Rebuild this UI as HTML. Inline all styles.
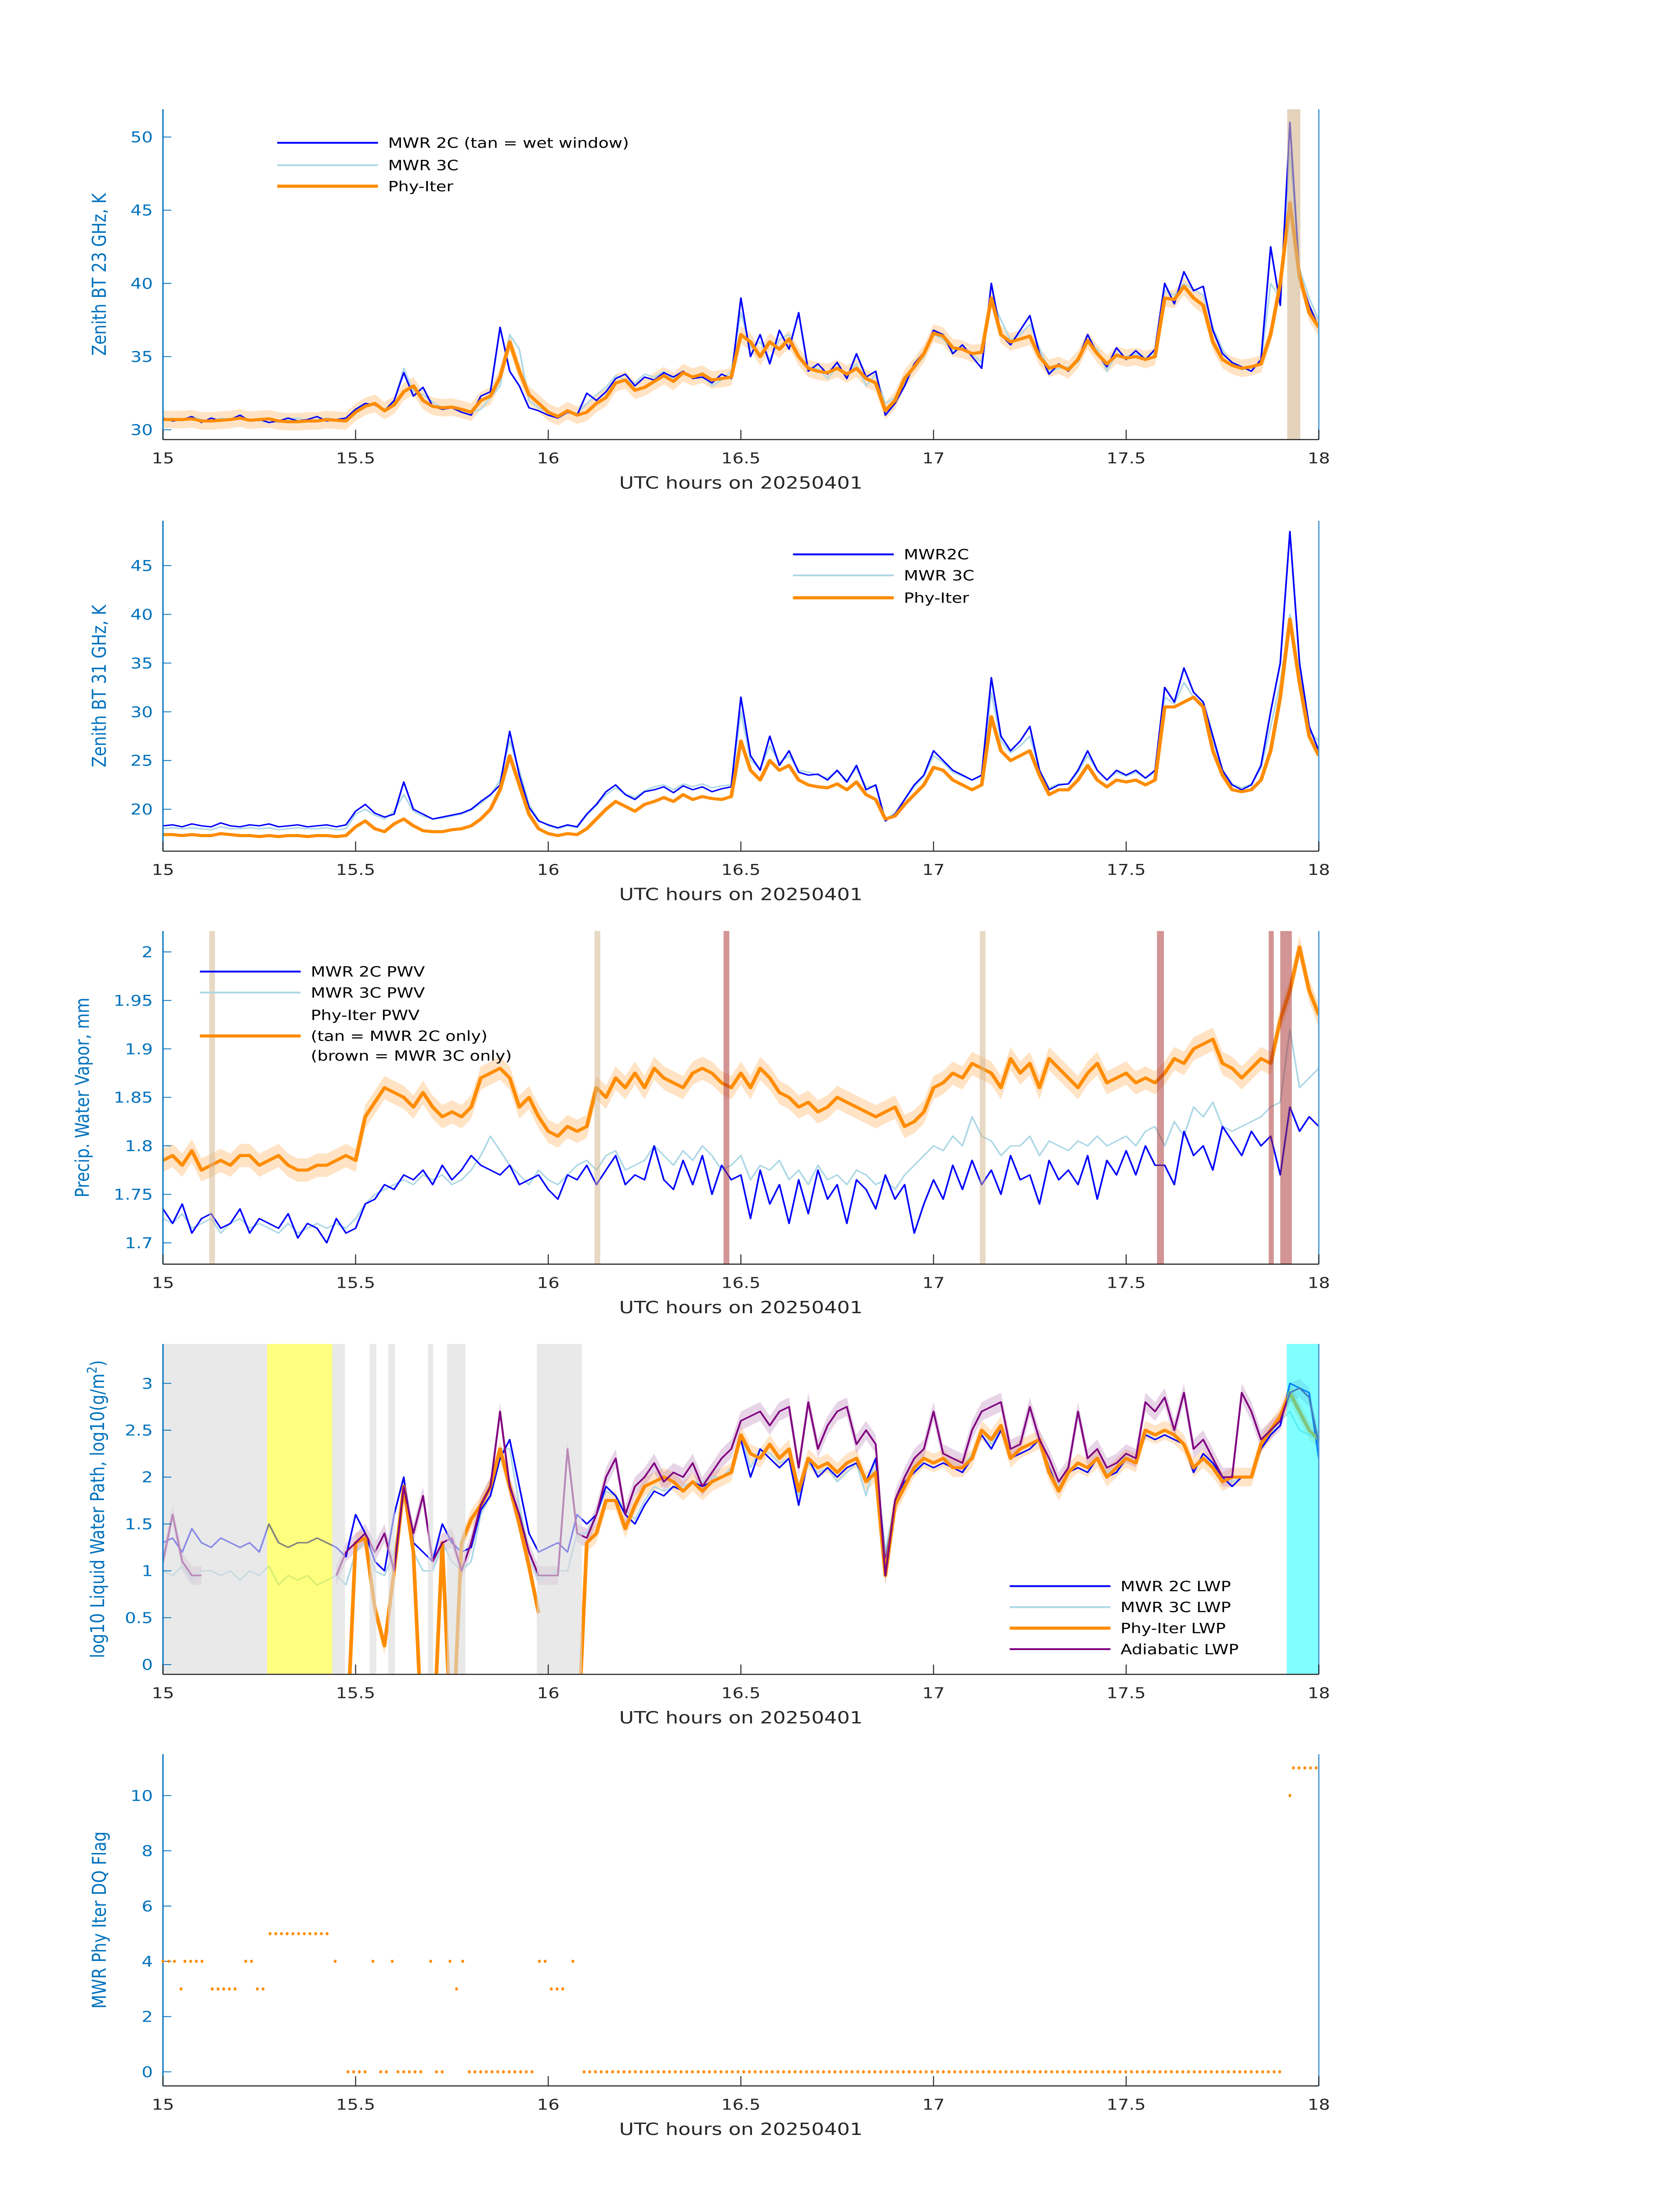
<!DOCTYPE html>
<html><head><meta charset="utf-8"><title>MWR retrieval comparison 20250401</title>
<style>html,body{margin:0;padding:0;background:#fff;width:100%;height:100%;overflow:hidden}svg{display:block;width:100vw;height:100vh}text{font-family:"DejaVu Sans","Liberation Sans",sans-serif}</style>
</head><body>
<svg id="fig" xmlns="http://www.w3.org/2000/svg" viewBox="0 0 1000 1568.627" preserveAspectRatio="none"></svg>
<script>
// ---------- shared axis data ----------
const tStart = 15, tStep = 0.025;
const xTicks = [15, 15.5, 16, 16.5, 17, 17.5, 18];
const xTickLabels = ['15', '15.5', '16', '16.5', '17', '17.5', '18'];

// ---------- Panel 1: BT 23 GHz ----------
const bt23_2c = [30.8,30.6,30.7,30.9,30.5,30.8,30.6,30.7,31.0,30.6,30.7,30.5,30.6,30.8,30.6,30.7,30.9,30.6,30.7,30.8,
31.4,31.8,31.7,31.3,32.0,33.9,32.3,32.9,31.6,31.4,31.5,31.2,31.0,32.3,32.6,37.0,34.0,33.0,31.5,31.3,
31.0,30.8,31.2,31.0,32.5,32.0,32.6,33.5,33.8,33.0,33.6,33.4,33.9,33.6,34.0,33.5,33.6,33.2,33.8,33.5,
39.0,35.0,36.5,34.5,36.8,35.5,38.0,34.0,34.5,33.8,34.6,33.5,35.2,33.6,34.0,31.0,31.8,33.0,34.5,35.3,
36.8,36.5,35.2,35.8,35.0,34.2,40.0,36.5,35.8,36.8,37.8,35.2,33.8,34.5,34.0,34.8,36.5,35.2,34.3,35.6,
34.8,35.4,34.8,35.5,40.0,38.6,40.8,39.5,39.8,36.8,35.2,34.6,34.3,34.0,34.8,42.5,38.5,51.0,40.5,38.5,37.0];
const bt23_3c = [30.7,30.8,30.6,30.9,30.7,30.6,30.8,30.7,30.8,30.7,30.6,30.7,30.5,30.7,30.8,30.6,30.7,30.8,30.7,30.6,
31.3,31.6,31.8,31.4,31.9,34.2,32.6,32.4,31.9,31.5,31.6,31.4,31.2,31.4,32.2,33.0,36.5,35.5,32.0,31.5,
31.2,30.9,31.3,31.1,31.8,32.4,32.9,33.7,33.4,33.2,33.8,33.6,34.0,33.4,33.8,33.6,33.9,33.0,33.4,34.0,
38.0,35.6,36.0,34.8,36.2,36.5,35.0,34.3,34.2,33.5,34.3,33.8,34.5,33.0,33.8,31.8,32.2,33.3,34.2,35.0,
36.5,36.2,35.4,35.6,35.2,34.6,39.0,37.5,36.1,36.5,37.2,35.6,34.0,34.2,34.3,34.6,36.0,35.5,34.0,35.2,
35.0,35.2,34.9,35.3,39.5,39.2,40.0,39.6,39.2,37.0,35.5,34.4,34.1,34.2,34.6,40.0,39.0,49.0,41.0,39.0,37.5];
const bt23_phy = [30.7,30.7,30.7,30.75,30.6,30.6,30.65,30.7,30.8,30.65,30.7,30.75,30.6,30.55,30.55,30.6,30.6,30.7,30.65,30.6,
31.2,31.6,31.8,31.3,31.7,32.6,33.0,32.0,31.6,31.5,31.55,31.4,31.2,32.0,32.3,33.6,36.0,34.0,32.4,31.8,
31.2,30.9,31.3,31.0,31.2,31.8,32.2,33.2,33.4,32.7,32.9,33.3,33.7,33.3,33.9,33.6,33.8,33.4,33.5,33.6,
36.5,36.0,35.0,36.0,35.5,36.2,35.0,34.2,34.0,33.9,34.2,33.8,34.2,33.5,33.2,31.3,32.0,33.5,34.3,35.2,
36.6,36.4,35.6,35.5,35.2,35.3,39.0,36.5,36.0,36.2,36.4,35.0,34.2,34.4,34.1,34.8,36.1,35.2,34.5,35.1,
34.9,35.0,34.8,35.0,39.0,38.9,39.8,39.0,38.5,36.0,34.8,34.4,34.2,34.3,34.5,36.5,40.0,45.5,40.5,38.0,37.0];
const bt23_ticks = [30, 35, 40, 45, 50];
const bt23_bands = [[17.918, 17.952]];

// ---------- Panel 2: BT 31 GHz ----------
const bt31_2c = [18.3,18.4,18.2,18.5,18.3,18.2,18.6,18.3,18.2,18.4,18.3,18.5,18.2,18.3,18.4,18.2,18.3,18.4,18.2,18.4,
19.8,20.5,19.6,19.2,19.5,22.8,20.0,19.5,19.0,19.2,19.4,19.6,20.0,20.8,21.5,22.5,28.0,23.5,20.2,18.8,
18.4,18.1,18.4,18.2,19.5,20.5,21.8,22.5,21.5,21.0,21.8,22.0,22.3,21.7,22.4,22.0,22.3,21.8,22.1,22.3,
31.5,25.5,24.0,27.5,24.5,26.0,23.8,23.5,23.6,23.0,24.0,22.8,24.5,22.0,22.5,18.8,19.5,21.0,22.5,23.5,
26.0,25.0,24.0,23.5,23.0,23.5,33.5,27.5,26.0,27.0,28.5,24.0,22.0,22.5,22.6,24.0,26.0,24.0,23.0,24.0,
23.5,24.0,23.2,24.0,32.5,31.0,34.5,32.0,31.0,27.5,24.0,22.5,22.0,22.5,24.5,30.0,35.0,48.5,35.0,28.5,26.0];
const bt31_3c = [18.0,18.1,18.0,18.1,18.0,17.9,18.2,18.0,18.0,18.1,18.0,18.1,17.9,18.0,18.1,18.0,18.0,18.1,17.9,18.0,
19.5,20.0,19.4,19.0,19.8,21.5,19.8,19.3,19.0,19.1,19.3,19.5,19.9,20.6,21.4,23.0,27.0,24.0,20.5,18.9,
18.3,18.0,18.3,18.1,19.4,20.4,21.5,22.2,21.6,21.2,21.9,22.3,22.5,22.0,22.6,22.3,22.6,22.2,22.4,22.5,
30.0,25.0,24.2,26.5,24.8,25.5,24.0,23.8,23.5,23.2,23.9,23.0,24.2,22.3,22.4,19.0,19.6,21.0,22.3,23.4,
25.5,24.8,23.8,23.4,23.0,23.4,32.0,27.0,25.8,26.5,27.5,24.0,22.2,22.6,22.6,23.8,25.5,24.0,23.0,23.8,
23.4,23.8,23.2,23.8,31.5,30.8,33.0,31.5,30.8,27.0,24.0,22.6,22.2,22.6,24.2,28.5,33.0,40.0,33.5,28.0,27.0];
const bt31_phy = [17.4,17.4,17.3,17.4,17.3,17.3,17.5,17.4,17.3,17.3,17.2,17.3,17.2,17.3,17.3,17.2,17.3,17.3,17.2,17.3,
18.2,18.8,18.0,17.7,18.5,19.0,18.3,17.8,17.7,17.7,17.9,18.0,18.3,19.0,20.0,22.0,25.5,22.5,19.5,18.0,
17.5,17.3,17.5,17.4,18.0,19.0,20.0,20.8,20.3,19.8,20.5,20.8,21.2,20.8,21.5,21.0,21.3,21.1,21.0,21.3,
27.0,24.0,23.0,25.0,24.0,24.5,23.0,22.5,22.3,22.2,22.6,22.0,22.8,21.5,21.0,19.0,19.3,20.5,21.5,22.5,
24.3,24.0,23.0,22.5,22.0,22.5,29.5,26.0,25.0,25.5,26.0,23.5,21.5,22.0,22.0,23.0,24.5,23.0,22.3,23.0,
22.8,23.0,22.5,23.0,30.5,30.5,31.0,31.5,30.5,26.0,23.5,22.0,21.8,22.0,23.0,26.0,31.5,39.5,33.0,27.5,25.5];
const bt31_ticks = [20, 25, 30, 35, 40, 45];

// ---------- Panel 3: PWV ----------
const pwv_2c = [1.735,1.72,1.74,1.71,1.725,1.73,1.715,1.72,1.735,1.71,1.725,1.72,1.715,1.73,1.705,1.72,1.715,1.70,1.725,1.71,
1.715,1.74,1.745,1.76,1.755,1.77,1.765,1.775,1.76,1.78,1.765,1.775,1.79,1.78,1.775,1.77,1.78,1.76,1.765,1.77,
1.755,1.745,1.77,1.765,1.78,1.76,1.775,1.79,1.76,1.77,1.765,1.80,1.765,1.755,1.785,1.76,1.79,1.75,1.78,1.765,
1.77,1.725,1.775,1.74,1.76,1.72,1.765,1.73,1.775,1.745,1.76,1.72,1.765,1.755,1.735,1.77,1.745,1.76,1.71,1.74,
1.765,1.745,1.78,1.755,1.785,1.76,1.775,1.75,1.79,1.765,1.77,1.74,1.785,1.765,1.775,1.76,1.79,1.745,1.785,1.77,
1.795,1.77,1.80,1.78,1.78,1.76,1.815,1.79,1.80,1.775,1.82,1.805,1.79,1.815,1.80,1.81,1.77,1.84,1.815,1.83,1.82];
const pwv_3c = [1.725,1.72,1.73,1.715,1.72,1.725,1.71,1.72,1.725,1.715,1.72,1.715,1.71,1.72,1.71,1.715,1.72,1.715,1.72,1.715,
1.725,1.74,1.75,1.755,1.76,1.765,1.76,1.77,1.765,1.77,1.76,1.765,1.775,1.79,1.81,1.795,1.78,1.77,1.76,1.775,
1.765,1.76,1.77,1.78,1.785,1.775,1.79,1.795,1.775,1.78,1.785,1.80,1.79,1.78,1.795,1.785,1.80,1.79,1.775,1.78,
1.79,1.765,1.78,1.775,1.785,1.765,1.775,1.76,1.78,1.765,1.77,1.76,1.775,1.77,1.76,1.765,1.755,1.77,1.78,1.79,
1.80,1.795,1.81,1.80,1.83,1.81,1.805,1.79,1.80,1.80,1.81,1.79,1.805,1.80,1.795,1.805,1.80,1.81,1.80,1.805,
1.81,1.80,1.815,1.82,1.80,1.825,1.81,1.84,1.83,1.845,1.82,1.815,1.82,1.825,1.83,1.84,1.845,1.92,1.86,1.87,1.88];
const pwv_phy = [1.785,1.79,1.78,1.795,1.775,1.78,1.785,1.78,1.79,1.79,1.78,1.785,1.79,1.78,1.775,1.775,1.78,1.78,1.785,1.79,
1.785,1.83,1.845,1.86,1.855,1.85,1.84,1.855,1.84,1.83,1.835,1.83,1.84,1.87,1.875,1.88,1.87,1.84,1.85,1.83,
1.815,1.81,1.82,1.815,1.82,1.86,1.85,1.87,1.86,1.875,1.86,1.88,1.87,1.865,1.86,1.875,1.88,1.875,1.865,1.86,
1.875,1.86,1.88,1.87,1.855,1.85,1.84,1.845,1.835,1.84,1.85,1.845,1.84,1.835,1.83,1.835,1.84,1.82,1.825,1.835,
1.86,1.865,1.875,1.87,1.885,1.88,1.875,1.86,1.89,1.875,1.885,1.86,1.89,1.88,1.87,1.86,1.875,1.885,1.865,1.87,
1.875,1.865,1.87,1.865,1.875,1.89,1.885,1.9,1.905,1.91,1.885,1.88,1.87,1.88,1.89,1.885,1.93,1.96,2.005,1.96,1.935];
const pwv_ticks = [1.7, 1.75, 1.8, 1.85, 1.9, 1.95, 2];
const pwv_tickLabels = ['1.7', '1.75', '1.8', '1.85', '1.9', '1.95', '2'];
const pwv_tanBands = [[15.12, 15.135], [16.12, 16.135], [17.12, 17.135]];
const pwv_brownBands = [[16.455, 16.47], [17.58, 17.598], [17.87, 17.883], [17.9, 17.93]];

// ---------- Panel 4: LWP ----------
const lwp_2c = [1.3,1.35,1.2,1.45,1.3,1.25,1.35,1.3,1.25,1.3,1.2,1.5,1.3,1.25,1.3,1.3,1.35,1.3,1.25,1.15,
1.6,1.4,1.1,1.0,1.6,2.0,1.3,1.2,1.1,1.5,1.3,1.2,1.25,1.65,1.8,2.2,2.4,1.9,1.4,1.2,
1.25,1.3,1.2,1.6,1.5,1.6,1.9,1.8,1.6,1.5,1.7,1.85,1.8,1.9,1.85,1.95,1.9,1.95,2.0,2.05,
2.4,2.0,2.3,2.2,2.1,2.2,1.7,2.2,2.0,2.1,2.0,2.1,2.15,1.95,2.2,1.1,1.7,1.95,2.05,2.15,
2.1,2.15,2.1,2.05,2.2,2.45,2.3,2.5,2.2,2.25,2.3,2.4,2.1,1.85,2.05,2.1,2.05,2.2,2.0,2.05,
2.2,2.15,2.45,2.4,2.45,2.4,2.35,2.05,2.25,2.15,2.0,1.9,2.0,2.0,2.3,2.45,2.55,3.0,2.95,2.9,2.2];
const lwp_3c = [1.0,0.95,1.05,0.9,1.0,1.0,0.95,1.0,0.9,1.0,0.95,1.05,0.85,0.95,0.9,0.95,0.85,0.9,0.95,0.85,
1.2,1.3,1.0,0.95,1.2,1.8,1.2,1.0,1.0,1.3,1.1,1.0,1.1,1.6,1.8,2.3,2.3,1.7,1.2,0.9,
0.95,1.0,1.0,1.4,1.4,1.6,1.85,1.8,1.65,1.55,1.75,1.9,1.85,1.9,1.9,1.95,1.95,2.0,2.0,2.1,
2.45,2.1,2.3,2.25,2.15,2.2,1.8,2.15,2.05,2.1,1.95,2.05,2.15,1.8,2.2,1.2,1.75,1.95,2.05,2.2,
2.15,2.2,2.1,2.1,2.25,2.5,2.35,2.5,2.2,2.3,2.35,2.4,2.05,1.9,2.05,2.15,2.1,2.2,2.05,2.1,
2.25,2.2,2.45,2.45,2.5,2.45,2.35,2.1,2.2,2.15,2.0,1.95,2.0,2.0,2.3,2.45,2.6,2.7,2.5,2.45,2.4];
const lwp_phy = [null,null,null,null,null,null,null,null,null,null,null,null,null,null,null,null,null,null,null,-1,
1.3,1.35,0.6,0.2,1.0,1.9,1.2,-1,-1,1.3,-1,1.3,1.55,1.7,1.9,2.3,1.9,1.5,1.05,0.55,
null,null,null,-1,1.3,1.4,1.75,1.75,1.45,1.7,1.9,1.95,2.0,1.95,1.85,1.95,1.85,1.95,2.0,2.05,
2.45,2.25,2.2,2.35,2.2,2.3,1.85,2.2,2.1,2.15,2.05,2.15,2.2,1.95,2.05,0.95,1.7,1.9,2.1,2.2,
2.15,2.2,2.1,2.1,2.2,2.5,2.4,2.55,2.2,2.3,2.35,2.4,2.05,1.85,2.05,2.15,2.1,2.2,2.0,2.1,
2.2,2.15,2.5,2.45,2.5,2.45,2.35,2.1,2.2,2.1,1.95,2.0,2.0,2.0,2.35,2.5,2.65,2.9,2.7,2.5,2.4];
const lwp_adi = [1.1,1.6,1.1,0.95,0.95,null,null,null,0.95,null,null,null,null,null,null,null,null,null,0.95,1.2,
1.3,1.4,1.2,1.4,1.0,1.9,1.4,1.8,1.1,1.3,1.35,1.0,1.3,1.7,1.9,2.7,1.9,1.6,1.2,0.95,
0.95,0.95,2.3,1.4,1.35,1.6,2.0,2.2,1.6,1.9,2.0,2.15,1.95,2.05,2.0,2.15,1.9,2.05,2.2,2.3,
2.6,2.65,2.7,2.55,2.7,2.75,2.1,2.8,2.3,2.55,2.7,2.75,2.35,2.5,2.35,0.95,1.75,2.0,2.2,2.3,
2.7,2.25,2.2,2.15,2.5,2.7,2.75,2.8,2.3,2.35,2.75,2.4,2.2,1.95,2.1,2.7,2.2,2.3,2.1,2.15,
2.25,2.2,2.8,2.7,2.85,2.5,2.9,2.3,2.4,2.2,2.0,2.0,2.9,2.7,2.4,2.5,2.6,2.9,2.95,2.85,2.35];
const lwp_ticks = [0, 0.5, 1, 1.5, 2, 2.5, 3];
const lwp_tickLabels = ['0', '0.5', '1', '1.5', '2', '2.5', '3'];
const lwp_grayBands = [[15.0, 15.2705], [15.4393, 15.4725], [15.5364, 15.5539], [15.5845, 15.602], [15.6877, 15.7012], [15.7371, 15.7851], [15.9703, 16.0876]];
const lwp_yellowBands = [[15.2705, 15.4393]];
const lwp_cyanBands = [[17.9168, 18.0]];

// ---------- Panel 5: DQ flag ----------
const flagStart = [15.0, 15.047, 15.057, 15.128, 15.215, 15.245, 15.278, 15.447, 15.48, 15.545, 15.565, 15.595, 15.61, 15.695, 15.71, 15.745, 15.762, 15.778, 15.795, 15.977, 16.008, 16.064, 16.093, 17.925, 17.934];
const flagEnd   = [15.03, 15.047, 15.115, 15.2, 15.23, 15.26, 15.43, 15.461, 15.53, 15.545, 15.58, 15.595, 15.68, 15.695, 15.73, 15.745, 15.775, 15.778, 15.962, 15.995, 16.046, 16.077, 17.908, 17.925, 18.0];
const flagValue = [4, 3, 4, 3, 4, 3, 5, 4, 0, 4, 0, 4, 0, 4, 0, 4, 3, 4, 0, 4, 3, 4, 0, 10, 11];
const flagCadence = 0.0148;
const dq_ticks = [0, 2, 4, 6, 8, 10];

// ---------- drawing ----------
const NS = 'http://www.w3.org/2000/svg';
const svg = document.getElementById('fig');
const X0 = 97, X1 = 785;
function X(t) { return X0 + (t - 15) / 3 * (X1 - X0); }
function el(tag, attrs, parent) {
  const e = document.createElementNS(NS, tag);
  for (const k in attrs) e.setAttribute(k, attrs[k]);
  (parent || svg).appendChild(e);
  return e;
}
function timeOf(i) { return tStart + tStep * i; }
function linePath(vals, Y) {
  let d = '', pen = false;
  vals.forEach((v, i) => {
    if (v === null) { pen = false; return; }
    d += (pen ? 'L' : 'M') + X(timeOf(i)).toFixed(2) + ' ' + Y(v).toFixed(2);
    pen = true;
  });
  return d;
}
function bandPath(vals, err, Y) {
  let d = '', seg = [];
  const flush = () => {
    if (seg.length > 1) {
      d += 'M' + seg.map(i => X(timeOf(i)).toFixed(2) + ' ' + Y(vals[i] + err).toFixed(2)).join('L');
      d += 'L' + seg.slice().reverse().map(i => X(timeOf(i)).toFixed(2) + ' ' + Y(vals[i] - err).toFixed(2)).join('L') + 'Z';
    }
    seg = [];
  };
  vals.forEach((v, i) => { if (v === null || v < -0.5) flush(); else seg.push(i); });
  flush();
  return d;
}

let clipN = 0;
function makePanel(p) {
  const g = el('g', {});
  
  
  const Y = v => p.bottom - (v - p.ymin) / (p.ymax - p.ymin) * (p.bottom - p.top);
  const cid = 'clip' + (clipN++);
  const cp = el('clipPath', { id: cid }, g);
  el('rect', { x: X0, y: p.top, width: X1 - X0, height: p.bottom - p.top }, cp);
  const plot = el('g', { 'clip-path': 'url(#' + cid + ')' }, g);
  
  
  const yl = el('line', { x1: X0, y1: p.top, x2: X0, y2: p.bottom, stroke: '#0072BD', 'stroke-width': 0.8 }, g);
  
  
  const rl = el('line', { x1: X1, y1: p.top, x2: X1, y2: p.bottom, stroke: '#4d9bd6', 'stroke-width': 0.8 }, g);
  
  
  const xl = el('line', { x1: X0, y1: p.bottom, x2: X1, y2: p.bottom, stroke: '#262626', 'stroke-width': 0.8 }, g);
  
  
  xTicks.forEach((t, i) => {
    const tk = el('line', { x1: X(t), y1: p.bottom, x2: X(t), y2: p.bottom - 7, stroke: '#262626', 'stroke-width': 0.6 }, g);
    
    
    const tl = el('text', { x: X(t), y: p.bottom + 17, 'font-size': 10.5, fill: '#262626', 'text-anchor': 'middle' }, g);
    tl.textContent = xTickLabels[i];
    
    
  });
  const xt = el('text', { x: (X0 + X1) / 2, y: p.bottom + 35, 'font-size': 12, fill: '#262626', 'text-anchor': 'middle' }, g);
  xt.textContent = 'UTC hours on 20250401';
  
  
  p.yticks.forEach((v, i) => {
    const tk = el('line', { x1: X0, y1: Y(v), x2: X0 + 5, y2: Y(v), stroke: '#0072BD', 'stroke-width': 0.6 }, g);
    
    
    const tl = el('text', { x: 91, y: Y(v) + 3.8, 'font-size': 10.5, fill: '#0072BD', 'text-anchor': 'end' }, g);
    tl.textContent = p.ytickLabels ? p.ytickLabels[i] : String(v);
    
    
  });
  const ymid = (p.top + p.bottom) / 2;
  const yt = el('text', { x: p.ylabelX, y: ymid, 'font-size': 11.5, fill: '#0072BD', 'text-anchor': 'middle', transform: 'rotate(-90 ' + p.ylabelX + ' ' + ymid + ')' }, g);
  if (p.ylabelHTML) yt.innerHTML = p.ylabelHTML; else yt.textContent = p.ylabel;
  
  
  return { g, plot, Y, top: p.top, bottom: p.bottom };
}
function band(P, ranges, fill, op, name) {
  ranges.forEach(r => {
    const b = el('rect', { x: X(r[0]), y: P.top, width: Math.max(X(r[1]) - X(r[0]), 0.8), height: P.bottom - P.top, fill: fill, 'fill-opacity': op }, P.plot);
    
    
  });
}
function series(parent, vals, Y, color, w, name, op) {
  const s = el('path', { d: linePath(vals, Y), fill: 'none', stroke: color, 'stroke-width': w, 'stroke-linejoin': 'round', 'stroke-opacity': op || 1 }, parent);
  
  
}
function uncert(parent, vals, err, Y, color, op, name) {
  const s = el('path', { d: bandPath(vals, err, Y), fill: color, 'fill-opacity': op, stroke: 'none' }, parent);
  
  
}
function legend(parent, x, ys, items) {
  const lg = el('g', {}, parent);
  
  
  items.forEach((it, i) => {
    if (it.color) {
      const l = el('line', { x1: x, y1: ys[i], x2: x + 60, y2: ys[i], stroke: it.color, 'stroke-width': it.w }, lg);
      
      
    }
    const t = el('text', { x: x + 66, y: ys[i] + 3.6, 'font-size': 10, fill: '#000' }, lg);
    t.textContent = it.label;
    
    
  });
}
const BLUE = '#0000ff', LBLUE = '#add8e6', ORANGE = '#ff8c00', PURPLE = '#800080', FILLOR = '#ffd9b0';

// Panel 1
(function () {
  const P = makePanel({ name: 'bt23-panel', top: 78, bottom: 314, ymin: 29.33, ymax: 51.9, yticks: bt23_ticks, ylabelX: 63, ylabel: 'Zenith BT 23 GHz, K' });
  uncert(P.plot, bt23_phy, 0.6, P.Y, FILLOR, 0.75, 'phy-iter-uncertainty');
  series(P.plot, bt23_3c, P.Y, LBLUE, 1, 'mwr-3c-line');
  series(P.plot, bt23_2c, P.Y, BLUE, 1, 'mwr-2c-line');
  series(P.plot, bt23_phy, P.Y, ORANGE, 2.2, 'phy-iter-line');
  band(P, bt23_bands, '#d2b48c', 0.6, 'wet-window-band');
  legend(P.g, 165, [102, 118, 133], [{ color: BLUE, w: 1.3, label: 'MWR 2C (tan = wet window)' }, { color: LBLUE, w: 1.3, label: 'MWR 3C' }, { color: ORANGE, w: 2.2, label: 'Phy-Iter' }]);
})();
// Panel 2
(function () {
  const P = makePanel({ name: 'bt31-panel', top: 372, bottom: 608, ymin: 15.7, ymax: 49.6, yticks: bt31_ticks, ylabelX: 63, ylabel: 'Zenith BT 31 GHz, K' });
  series(P.plot, bt31_3c, P.Y, LBLUE, 1, 'mwr-3c-line');
  series(P.plot, bt31_2c, P.Y, BLUE, 1, 'mwr-2c-line');
  series(P.plot, bt31_phy, P.Y, ORANGE, 2.2, 'phy-iter-line');
  legend(P.g, 472, [396, 411, 427], [{ color: BLUE, w: 1.3, label: 'MWR2C' }, { color: LBLUE, w: 1.3, label: 'MWR 3C' }, { color: ORANGE, w: 2.2, label: 'Phy-Iter' }]);
})();
// Panel 3
(function () {
  const P = makePanel({ name: 'pwv-panel', top: 665, bottom: 903, ymin: 1.678, ymax: 2.0216, yticks: pwv_ticks, ytickLabels: pwv_tickLabels, ylabelX: 53, ylabel: 'Precip. Water Vapor, mm' });
  uncert(P.plot, pwv_phy, 0.012, P.Y, FILLOR, 0.75, 'phy-iter-uncertainty');
  series(P.plot, pwv_3c, P.Y, LBLUE, 1, 'mwr-3c-pwv-line');
  series(P.plot, pwv_2c, P.Y, BLUE, 1, 'mwr-2c-pwv-line');
  series(P.plot, pwv_phy, P.Y, ORANGE, 2.2, 'phy-iter-pwv-line');
  band(P, pwv_tanBands, '#d2b48c', 0.5, 'tan-band-2c-only');
  band(P, pwv_brownBands, '#a52a2a', 0.5, 'brown-band-3c-only');
  legend(P.g, 119, [694, 709, 725, 740, 754], [{ color: BLUE, w: 1.3, label: 'MWR 2C PWV' }, { color: LBLUE, w: 1.3, label: 'MWR 3C PWV' }, { label: 'Phy-Iter PWV' }, { color: ORANGE, w: 2.2, label: '(tan = MWR 2C only)' }, { label: '(brown = MWR 3C only)' }]);
})();
// Panel 4
(function () {
  const P = makePanel({ name: 'lwp-panel', top: 960, bottom: 1196, ymin: -0.104, ymax: 3.42, yticks: lwp_ticks, ytickLabels: lwp_tickLabels, ylabelX: 62, ylabelHTML: 'log10 Liquid Water Path, log10(g/m<tspan baseline-shift="super" font-size="8">2</tspan>)' });
  uncert(P.plot, lwp_phy, 0.1, P.Y, FILLOR, 0.7, 'phy-iter-uncertainty');
  uncert(P.plot, lwp_adi, 0.1, P.Y, '#b070b0', 0.3, 'adiabatic-uncertainty');
  series(P.plot, lwp_3c, P.Y, LBLUE, 1, 'mwr-3c-lwp-line');
  series(P.plot, lwp_2c, P.Y, BLUE, 1, 'mwr-2c-lwp-line');
  series(P.plot, lwp_phy, P.Y, ORANGE, 2.2, 'phy-iter-lwp-line');
  series(P.plot, lwp_adi, P.Y, PURPLE, 1.1, 'adiabatic-lwp-line');
  band(P, lwp_grayBands, '#dcdcdc', 0.62, 'gray-band');
  band(P, lwp_yellowBands, '#ffff00', 0.5, 'yellow-band');
  band(P, lwp_cyanBands, '#00ffff', 0.5, 'cyan-band');
  legend(P.g, 601, [1133, 1148, 1163, 1178], [{ color: BLUE, w: 1.3, label: 'MWR 2C LWP' }, { color: LBLUE, w: 1.3, label: 'MWR 3C LWP' }, { color: ORANGE, w: 2.2, label: 'Phy-Iter LWP' }, { color: PURPLE, w: 1.3, label: 'Adiabatic LWP' }]);
})();
// Panel 5
(function () {
  const P = makePanel({ name: 'dq-flag-panel', top: 1253, bottom: 1490, ymin: -0.51, ymax: 11.5, yticks: dq_ticks, ylabelX: 63, ylabel: 'MWR Phy Iter DQ Flag' });
  flagValue.forEach((v, k) => {
    for (let t = flagStart[k]; t <= flagEnd[k] + 1e-9; t += flagCadence) {
      const d = el('ellipse', { cx: X(t), cy: P.Y(v), rx: 0.85, ry: 1.15, fill: ORANGE }, P.g);
      
      
    }
  });
})();
</script>
</body></html>
